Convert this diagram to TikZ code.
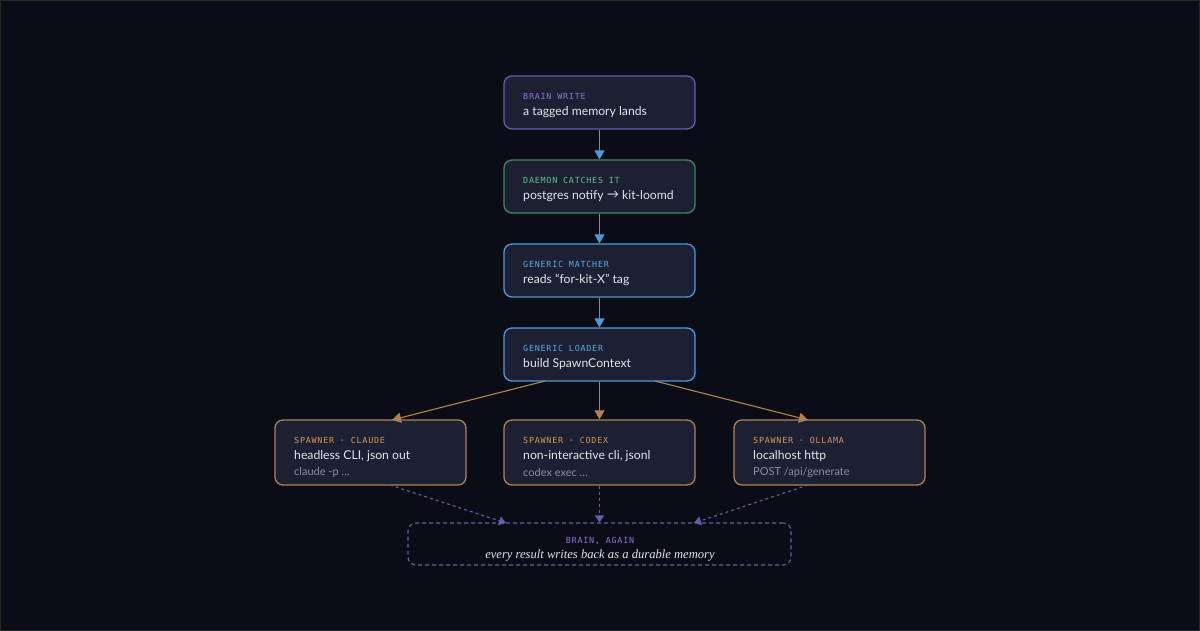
\documentclass[tikz,border=0pt]{standalone}
\usepackage{fontspec}
\usetikzlibrary{arrows.meta}
\newfontfamily\ttl{Lato}
\newfontfamily\lbl[LetterSpace=9]{DejaVu Sans Mono}
\newfontfamily\srf{Liberation Serif}
\definecolor{bg}{HTML}{0B0D16}
\definecolor{frame}{HTML}{2A2626}
\definecolor{boxfill}{HTML}{1D2032}
\definecolor{cpurple}{HTML}{6E58B0}
\definecolor{lpurple}{HTML}{8C72D6}
\definecolor{cgreen}{HTML}{3F8A5C}
\definecolor{lgreen}{HTML}{5EC486}
\definecolor{cblue}{HTML}{4B9BD8}
\definecolor{lblue}{HTML}{5AAAE2}
\definecolor{corange}{HTML}{B08252}
\definecolor{lorange}{HTML}{D4955A}
\definecolor{titletxt}{HTML}{E2E4EC}
\definecolor{subtxt}{HTML}{8A8EA2}
\definecolor{dpurple}{HTML}{6A5BAA}
\tikzset{
  box/.style={draw=#1, fill=boxfill, rounded corners=8pt, line width=1.3pt, minimum width=191pt, inner sep=0pt},
  lab/.style={anchor=west, inner sep=0pt, text=#1, font=\lbl\fontsize{8.4}{10}\selectfont},
  ttext/.style={anchor=west, inner sep=0pt, text=titletxt, font=\ttl\fontsize{12.2}{14}\selectfont},
  stext/.style={anchor=west, inner sep=0pt, text=subtxt, font=\ttl\fontsize{11}{13}\selectfont},
  bluearr/.style={draw=cblue, line width=1.3pt, -{Triangle[width=10pt,length=9pt]}},
  orarr/.style={draw=corange, line width=1.1pt, -{Triangle[width=10pt,length=9pt]}},
  dasharr/.style={draw=dpurple, line width=1.1pt, dash pattern=on 3pt off 3pt, -{Triangle[width=9pt,length=7pt]}},
}
\begin{document}
\begin{tikzpicture}[x=1pt,y=-1pt]
\fill[bg] (0,0) rectangle (1200,631);
\draw[frame, line width=1pt] (0.5,0.5) rectangle (1199.5,630.5);
\useasboundingbox (0,0) rectangle (1200,631);

% main column
\node[box=cpurple, minimum height=53pt] (write) at (599.5,102.5) {};
\node[lab=lpurple] (writel) at (523,96) {BRAIN WRITE};
\node[ttext] (writet) at (523,112) {a tagged memory lands};

\node[box=cgreen, minimum height=53pt] (daemon) at (599.5,186.5) {};
\node[lab=lgreen] (daemonl) at (523,180) {DAEMON CATCHES IT};
\node[ttext] (daemont) at (523,196) {postgres notify \raisebox{0.5pt}{→} kit-loomd};

\node[box=cblue, minimum height=53pt] (matcher) at (599.5,270.5) {};
\node[lab=lblue] (matcherl) at (523,264) {GENERIC MATCHER};
\node[ttext] (matchert) at (523,280) {reads “for-kit-X” tag};

\node[box=cblue, minimum height=53pt] (loader) at (599.5,354.5) {};
\node[lab=lblue] (loaderl) at (523,348) {GENERIC LOADER};
\node[ttext] (loadert) at (523,364) {build SpawnContext};

% spawners
\node[box=corange, minimum height=65pt] (claude) at (370.5,452.5) {};
\node[lab=lorange] (claudel) at (294,440) {SPAWNER · CLAUDE};
\node[ttext] (claudet) at (294,456) {headless CLI, json out};
\node[stext] (claudes) at (294,472) {claude -p …};

\node[box=corange, minimum height=65pt] (codex) at (599.5,452.5) {};
\node[lab=lorange] (codexl) at (523,440) {SPAWNER · CODEX};
\node[ttext] (codext) at (523,456) {non-interactive cli, jsonl};
\node[stext] (codexs) at (523,472) {codex exec …};

\node[box=corange, minimum height=65pt] (ollama) at (829.5,452.5) {};
\node[lab=lorange] (ollamal) at (753,440) {SPAWNER · OLLAMA};
\node[ttext] (ollamat) at (753,456) {localhost http};
\node[stext] (ollamas) at (753,472) {POST /api/generate};

% brain again
\node[draw=dpurple, line width=1.1pt, dash pattern=on 4pt off 3pt, rounded corners=8pt, minimum width=383pt, minimum height=42pt, inner sep=0pt] (again) at (599.5,544) {};
\node[inner sep=0pt, text=lpurple, font=\lbl\fontsize{8.4}{10}\selectfont] (againl) at (600,541) {BRAIN, AGAIN};
\node[inner sep=0pt, text=titletxt, font=\srf\itshape\fontsize{12.6}{14}\selectfont] (againt) at (600,555) {every result writes back as a durable memory};

% connectors
\draw[bluearr] (write.south) -- (daemon.north);
\draw[bluearr] (daemon.south) -- (matcher.north);
\draw[bluearr] (matcher.south) -- (loader.north);

\coordinate (lo1) at (545,381);
\coordinate (lo3) at (655,381);
\coordinate (cl1) at (392,420);
\coordinate (ol1) at (808,420);
\draw[orarr] (lo1) -- (cl1);
\draw[orarr] (loader.south) -- (codex.north);
\draw[orarr] (lo3) -- (ol1);

\coordinate (cl2) at (390,485);
\coordinate (ol2) at (808,485);
\coordinate (ag1) at (506,523);
\coordinate (ag3) at (694,523);
\draw[dasharr] (cl2) -- (ag1);
\draw[dasharr] (codex.south) -- (again.north);
\draw[dasharr] (ol2) -- (ag3);
\end{tikzpicture}
\end{document}
